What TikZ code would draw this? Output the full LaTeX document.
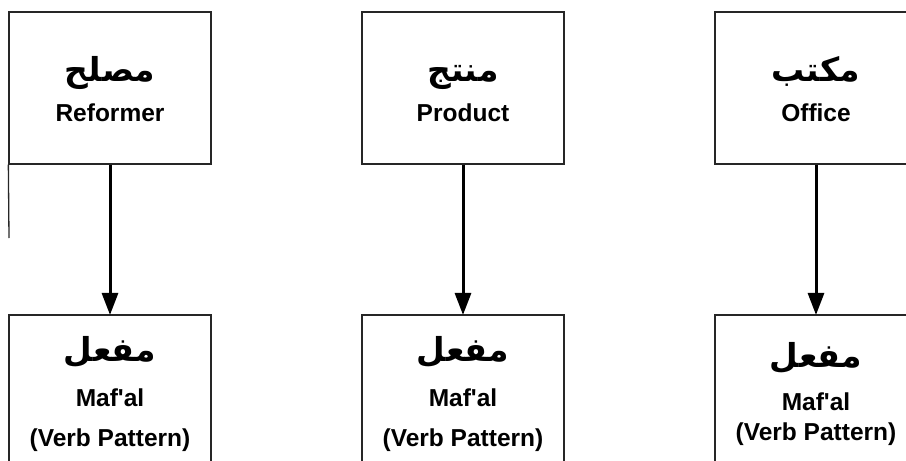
\documentclass[tikz,border=0pt]{standalone}
\usepackage{fontspec}
\setmainfont{Liberation Sans}
\newfontfamily\arabicfont[Script=Arabic]{DejaVu Sans}
\TeXXeTstate=1
\usetikzlibrary{arrows.meta}
\newcommand\artxt[1]{{\arabicfont\bfseries\fontsize{33}{40}\selectfont\rule[-16pt]{0pt}{56pt}\beginR #1\endR}}
\newcommand\laststrut{\rule[-14pt]{0pt}{24pt}}
\begin{document}
\begin{tikzpicture}[x=1pt,y=-1pt,
  box/.style={draw=black!85, line width=1.3pt, minimum width=202pt, minimum height=152pt,
    inner sep=0pt, align=center, font=\fontsize{24.5}{40}\selectfont\bfseries},
  conn/.style={line width=3pt, -{Triangle[length=22pt,width=16pt]}, shorten >=-0.6pt}]
\useasboundingbox (0,0) rectangle (906,461);
\clip (0,0) rectangle (906,461);
% top boxes
\node[box] (t1) at (110,88) {\artxt{مصلح}\\ Reformer\laststrut};
\node[box] (t2) at (463,88) {\artxt{منتج}\\ Product\laststrut};
\node[box] (t3) at (816,88) {\artxt{مكتب}\\ Office\laststrut};
% bottom boxes
\node[box] (b1) at (110,391) {\artxt{مفعل}\\[5pt] Maf\textquotesingle al\\ (Verb Pattern)\laststrut};
\node[box] (b2) at (463,391) {\artxt{مفعل}\\[5pt] Maf\textquotesingle al\\ (Verb Pattern)\laststrut};
\node[box] (b3) at (816,391) {\artxt{مفعل}\\[3pt] Maf\textquotesingle al\\[-10pt] (Verb Pattern)\laststrut};
% stray line below first box
\coordinate (e1) at (9,238);
\draw[draw=black!85, line width=1.3pt] (t1.south west) -- (e1);
% connectors
\draw[conn] (t1) -- (b1);
\draw[conn] (t2) -- (b2);
\draw[conn] (t3) -- (b3);
\end{tikzpicture}
\end{document}
